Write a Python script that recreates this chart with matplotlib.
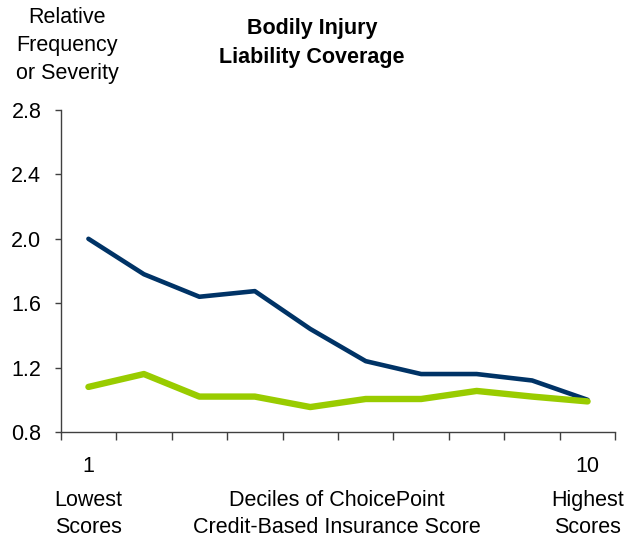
import matplotlib
matplotlib.use("Agg")
import matplotlib.pyplot as plt
from matplotlib.transforms import blended_transform_factory

plt.rcParams['font.family'] = ['Liberation Sans', 'DejaVu Sans']

deciles = [1, 2, 3, 4, 5, 6, 7, 8, 9, 10]
frequency = [2.00, 1.78, 1.64, 1.675, 1.44, 1.24, 1.16, 1.16, 1.12, 1.00]
severity = [1.08, 1.16, 1.02, 1.02, 0.955, 1.005, 1.005, 1.055, 1.02, 0.99]
y_ticks = [0.8, 1.2, 1.6, 2.0, 2.4, 2.8]
y_tick_labels = ["0.8", "1.2", "1.6", "2.0", "2.4", "2.8"]

navy = "#003366"
lime = "#99CC00"
axis_grey = "#404040"
fs = 15.5

W, H = 644, 539
fig = plt.figure(figsize=(W / 100, H / 100), dpi=100)
ax = fig.add_axes([60.7 / W, 1 - 432 / H, (615.3 - 60.7) / W, (432 - 110) / H])

ax.plot(deciles, frequency, color=navy, lw=3.3, solid_capstyle="round",
        solid_joinstyle="round", zorder=3)
ax.plot(deciles, severity, color=lime, lw=4.6, solid_capstyle="round",
        solid_joinstyle="round", zorder=4)

ax.set_xlim(0.5, 10.5)
ax.set_ylim(0.8, 2.8)
ax.set_yticks(y_ticks)
ax.set_yticklabels(y_tick_labels, fontsize=fs)
ax.set_xticks([d - 0.5 for d in deciles] + [10.5])
ax.set_xticklabels([])

for side in ("top", "right"):
    ax.spines[side].set_visible(False)
for side in ("left", "bottom"):
    ax.spines[side].set_color(axis_grey)
    ax.spines[side].set_linewidth(1.0)
ax.tick_params(axis="y", direction="out", length=4, width=1.0, color=axis_grey, pad=10)
ax.tick_params(axis="x", direction="out", length=6, width=1.0, color=axis_grey)


def ypos(px):
    return 1 - px / H


# Axis title and chart title
for i, line in enumerate(["Relative", "Frequency", "or Severity"]):
    fig.text(67 / W, ypos(22.7 + 28 * i), line, ha="center", va="baseline", fontsize=fs)
for i, line in enumerate(["Bodily Injury", "Liability Coverage"]):
    fig.text(312 / W, ypos(34 + 29.3 * i), line, ha="center", va="baseline",
             fontsize=fs, fontweight="bold")

# Category labels under the x axis
row_baselines = [472, 506, 533]
tr = blended_transform_factory(ax.transData, fig.transFigure)
for d, lines in [(1, ["1", "Lowest", "Scores"]), (10, ["10", "Highest", "Scores"])]:
    for base, line in zip(row_baselines, lines):
        fig.text(d, ypos(base), line, ha="center", va="baseline", fontsize=fs, transform=tr)
for base, line in zip(row_baselines[1:], ["Deciles of ChoicePoint", "Credit-Based Insurance Score"]):
    fig.text(337 / W, ypos(base), line, ha="center", va="baseline", fontsize=fs)

fig.savefig("out.png", dpi=100)
